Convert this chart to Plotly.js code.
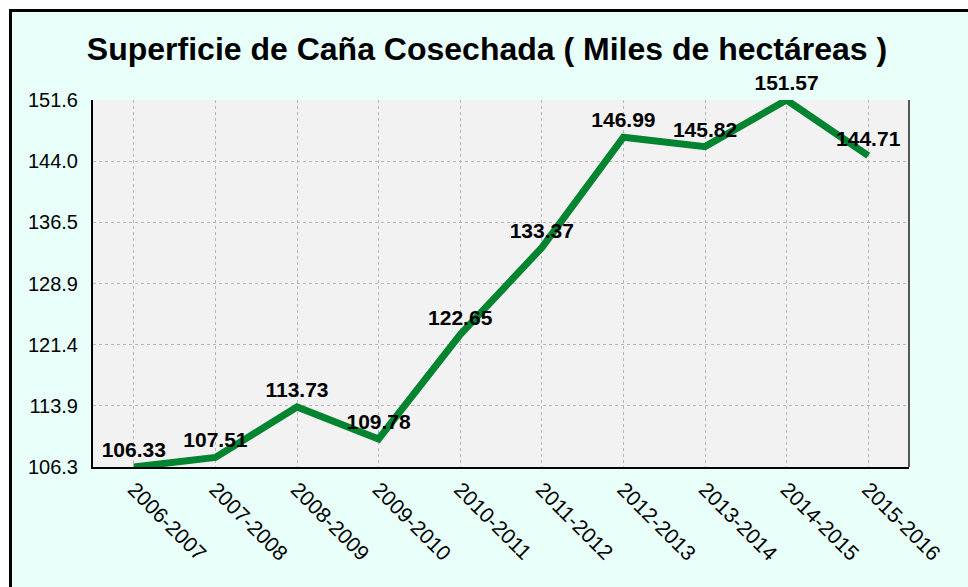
<!DOCTYPE html>
<html>
<head>
<meta charset="utf-8">
<script src="https://cdn.plot.ly/plotly-3.0.1.min.js"></script>
<style>
  html, body { margin: 0; padding: 0; background: #ffffff; overflow: hidden; width: 968px; height: 587px; }
  #wrap { position: absolute; left: 9px; top: 9px; border-top: 3px solid #000; border-left: 3px solid #000; width: 960px; height: 580px; }
  #chart { width: 956px; height: 575px; }
</style>
</head>
<body>
<div id="wrap"><div id="chart"></div></div>
<script>
const seasons = ['2006-2007','2007-2008','2008-2009','2009-2010','2010-2011','2011-2012','2012-2013','2013-2014','2014-2015','2015-2016'];
const hectares = [106.33, 107.51, 113.73, 109.78, 122.65, 133.37, 146.99, 145.82, 151.57, 144.71];
const yTickLabels = ['106.3','113.9','121.4','128.9','136.5','144.0','151.6'];
const titleText = 'Superficie de Caña Cosechada ( Miles de hectáreas )';

const yMin = Math.min(...hectares), yMax = Math.max(...hectares);
const yTickVals = yTickLabels.map((_, i) => yMin + i * (yMax - yMin) / (yTickLabels.length - 1));

const FONT = 'Liberation Sans, Arial, sans-serif';

const trace = {
  x: seasons,
  y: hectares,
  type: 'scatter',
  mode: 'lines+markers+text',
  line: { color: '#00842f', width: 7 },
  marker: { size: 6, color: 'rgba(0,0,0,0)' },
  text: hectares.map(v => v.toFixed(2)),
  textposition: 'top center',
  textfont: { family: FONT, size: 21, color: '#000', weight: 'bold' },
  cliponaxis: false,
  hoverinfo: 'skip'
};

const layout = {
  width: 956, height: 575,
  margin: { l: 81, r: 59, t: 88, b: 120 },
  paper_bgcolor: '#e8fffa',
  plot_bgcolor: '#f2f2f2',
  showlegend: false,
  title: {
    text: '<b>' + titleText + '</b>',
    font: { family: FONT, size: 32, color: '#000' },
    x: 475/956, xanchor: 'center', xref: 'container',
    y: 1 - 37/575, yanchor: 'middle', yref: 'container'
  },
  xaxis: {
    type: 'category',
    range: [-0.5, seasons.length - 0.5],
    showline: true, linecolor: '#000', linewidth: 2,
    showgrid: true, gridcolor: '#b8b8b8', griddash: 'dot', gridwidth: 1,
    ticks: '',
    tickangle: 45,
    tickfont: { family: FONT, size: 21, color: '#000' },
    minor: { ticks: 'inside', ticklen: 5, tickwidth: 1, tickcolor: '#000', tick0: 0.5, dtick: 1, showgrid: false },
    zeroline: false,
    fixedrange: true
  },
  yaxis: {
    range: [yMin, yMax],
    tickmode: 'array',
    tickvals: yTickVals,
    ticktext: yTickLabels,
    showline: true, linecolor: '#000', linewidth: 2,
    showgrid: true, gridcolor: '#b8b8b8', griddash: 'dot', gridwidth: 1,
    ticks: '',
    ticklabelstandoff: 9,
    tickfont: { family: FONT, size: 20, color: '#000' },
    zeroline: false,
    fixedrange: true
  },
  shapes: [
    { type: 'line', xref: 'paper', yref: 'paper', x0: 1, x1: 1, y0: 0, y1: 1, line: { color: '#555', width: 2 } }
  ]
};

Plotly.newPlot('chart', [trace], layout, { displayModeBar: false, staticPlot: true });
</script>
</body>
</html>
